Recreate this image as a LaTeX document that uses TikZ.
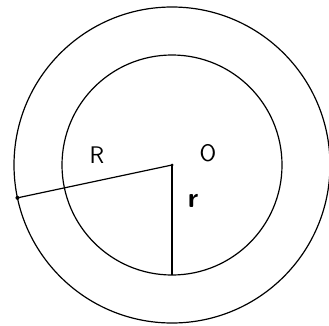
\documentclass[tikz,border=0pt]{standalone}
\usepackage{tikz}
\usetikzlibrary{calc}

\begin{document}
\begin{tikzpicture}[
  x=1pt, y=1pt,
  ring/.style={draw, line width=1.2pt},
  radius line/.style={line width=1.2pt},
  lbl/.style={font=\fontsize{24}{26}\selectfont\sffamily}
]
\useasboundingbox (0,0) rectangle (329,325);
\coordinate (centre) at (172,160);
\draw[ring] (centre) circle[radius=158];
\draw[ring] (centre) circle[radius=110];
\coordinate (outerpt) at ($(centre)+(192:158)$);
\coordinate (innerpt) at ($(centre)+(270:110)$);
\fill (centre) circle[radius=1.5];
\draw[radius line] (centre) -- (outerpt);
\draw[radius line] (centre) -- (innerpt);
\fill (outerpt) circle[radius=2];
\node[lbl] (labR) at (97,170) {R};
\node[lbl] (labO) at (208,172) {O};
\node[lbl, font=\fontsize{28}{30}\selectfont\sffamily\bfseries] (labr) at (193,124) {r};
\end{tikzpicture}
\end{document}
